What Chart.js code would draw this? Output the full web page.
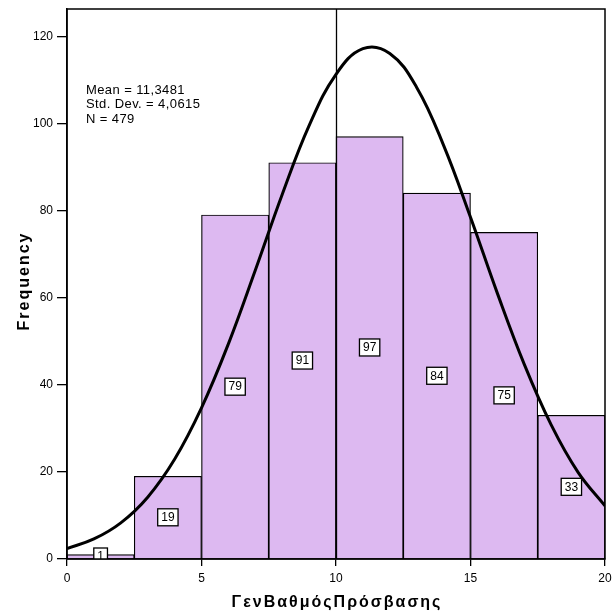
<!DOCTYPE html>
<html>
<head>
<meta charset="utf-8">
<script src="https://cdn.jsdelivr.net/npm/chart.js@4.4.1/dist/chart.umd.min.js"></script>
<style>
  html, body { margin: 0; padding: 0; background: #fff; }
  #wrap { width: 612px; height: 615px; }
</style>
</head>
<body>
<div id="wrap"><canvas id="hist"></canvas></div>
<script>
// histogram bins (width 2.5) and their frequencies
var binStart = [0, 2.5, 5, 7.5, 10, 12.5, 15, 17.5];
var binWidth = 2.5;
var counts = [1, 19, 79, 91, 97, 84, 75, 33];

// normal curve
var curveX = [0, 1, 2, 3, 4, 5, 6, 7, 8, 9, 10, 11, 12, 13, 14, 15, 16, 17, 18, 19, 20];
var curveY = [2.4, 4.6, 8.3, 14.2, 22.9, 34.7, 49.4, 66.3, 83.7, 99.5, 111.3, 117.2, 116.1, 108.3, 95.0, 78.5, 61.0, 44.7, 30.8, 19.9, 12.2];

var xTicks = [0, 5, 10, 15, 20];
var yTicks = [0, 20, 40, 60, 80, 100, 120];
var refLineX = 10;

var stats = ["Mean = 11,3481", "Std. Dev. = 4,0615", "N = 479"];
var xTitle = "ΓενΒαθμόςΠρόσβασης";
var yTitle = "Frequency";

var FONT = "'Liberation Sans', Arial, sans-serif";

// frame, reference line, bar labels, stats box and axis titles
var extras = {
  id: "extras",
  afterDatasetsDraw: function (chart) {
    var ctx = chart.ctx, a = chart.chartArea;
    var xs = chart.scales.x;
    ctx.save();
    // reference line
    var rx = Math.round(xs.getPixelForValue(refLineX)) + 0.5;
    ctx.strokeStyle = "#000";
    ctx.lineWidth = 1.3;
    ctx.beginPath();
    ctx.moveTo(rx, a.top);
    ctx.lineTo(rx, a.bottom);
    ctx.stroke();

    // count labels in the middle of each bar
    ctx.beginPath();
    ctx.rect(a.left, a.top, a.right - a.left, a.bottom - a.top);
    ctx.clip();
    ctx.font = "12px " + FONT;
    ctx.textAlign = "center";
    ctx.textBaseline = "middle";
    var meta = chart.getDatasetMeta(1);
    meta.data.forEach(function (bar, i) {
      var txt = String(counts[i]);
      var cy = (bar.y + bar.base) / 2;
      var w = ctx.measureText(txt).width + 7;
      var h = 17;
      ctx.fillStyle = "#fff";
      ctx.fillRect(bar.x - w / 2, cy - h / 2, w, h);
      ctx.lineWidth = 1.3;
      ctx.strokeStyle = "#000";
      ctx.strokeRect(bar.x - w / 2, cy - h / 2, w, h);
      ctx.fillStyle = "#000";
      ctx.fillText(txt, bar.x, cy + 0.5);
    });
    ctx.restore();

    ctx.save();
    // outer frame
    ctx.strokeStyle = "#000";
    ctx.lineWidth = 1.5;
    ctx.strokeRect(a.left, a.top, a.right - a.left, a.bottom - a.top);

    // stats text
    ctx.fillStyle = "#000";
    ctx.font = "13px " + FONT;
    ctx.letterSpacing = "0.4px";
    ctx.textAlign = "left";
    ctx.textBaseline = "middle";
    stats.forEach(function (s, i) {
      ctx.fillText(s, a.left + 19, a.top + 81 + i * 14.5);
    });

    // axis titles
    ctx.font = "bold 16px " + FONT;
    ctx.letterSpacing = "2px";
    ctx.textAlign = "center";
    ctx.textBaseline = "alphabetic";
    ctx.fillText(xTitle, (a.left + a.right) / 2 + 1, 607);
    ctx.translate(29, 282);
    ctx.rotate(-Math.PI / 2);
    ctx.fillText(yTitle, 1, 0);
    ctx.restore();
  }
};

var barData = binStart.map(function (s, i) {
  return { x: s + binWidth / 2, y: counts[i] };
});
var curveData = curveX.map(function (x, i) {
  return { x: x, y: curveY[i] };
});

new Chart(document.getElementById("hist").getContext("2d"), {
  type: "bar",
  data: {
    datasets: [
      {
        type: "line",
        data: curveData,
        borderColor: "#000",
        borderWidth: 3,
        pointRadius: 0,
        fill: false,
        tension: 0.4,
        order: 0
      },
      {
        type: "bar",
        data: barData,
        backgroundColor: "#ddb9f1",
        borderColor: "#000",
        borderWidth: 1.2,
        barPercentage: 1,
        categoryPercentage: 1,
        order: 1
      }
    ]
  },
  options: {
    responsive: true,
    maintainAspectRatio: false,
    animation: false,
    layout: { padding: { top: 9, right: 7, left: 0, bottom: 0 } },
    plugins: {
      legend: { display: false },
      tooltip: { enabled: false }
    },
    scales: {
      x: {
        type: "linear",
        min: 0,
        max: 20,
        offset: false,
        afterBuildTicks: function (s) { s.ticks = xTicks.map(function (v) { return { value: v }; }); },
        afterFit: function (s) { s.height = 56; s.paddingLeft = 0; s.paddingRight = 0; },
        grid: { offset: false, drawOnChartArea: false, drawTicks: true, tickLength: 7, color: "#000", lineWidth: 1.3 },
        border: { color: "#000", width: 1.5 },
        ticks: { color: "#000", font: { family: FONT, size: 12 }, padding: 5, maxRotation: 0 }
      },
      y: {
        min: 0,
        max: 126.3,
        afterBuildTicks: function (s) { s.ticks = yTicks.map(function (v) { return { value: v }; }); },
        afterFit: function (s) { s.width = 67; s.paddingTop = 0; s.paddingBottom = 0; },
        grid: { drawOnChartArea: false, drawTicks: true, tickLength: 10, color: "#000", lineWidth: 1.3 },
        border: { color: "#000", width: 1.5 },
        ticks: { color: "#000", font: { family: FONT, size: 12 }, padding: 4 }
      }
    }
  },
  plugins: [extras]
});
</script>
</body>
</html>
